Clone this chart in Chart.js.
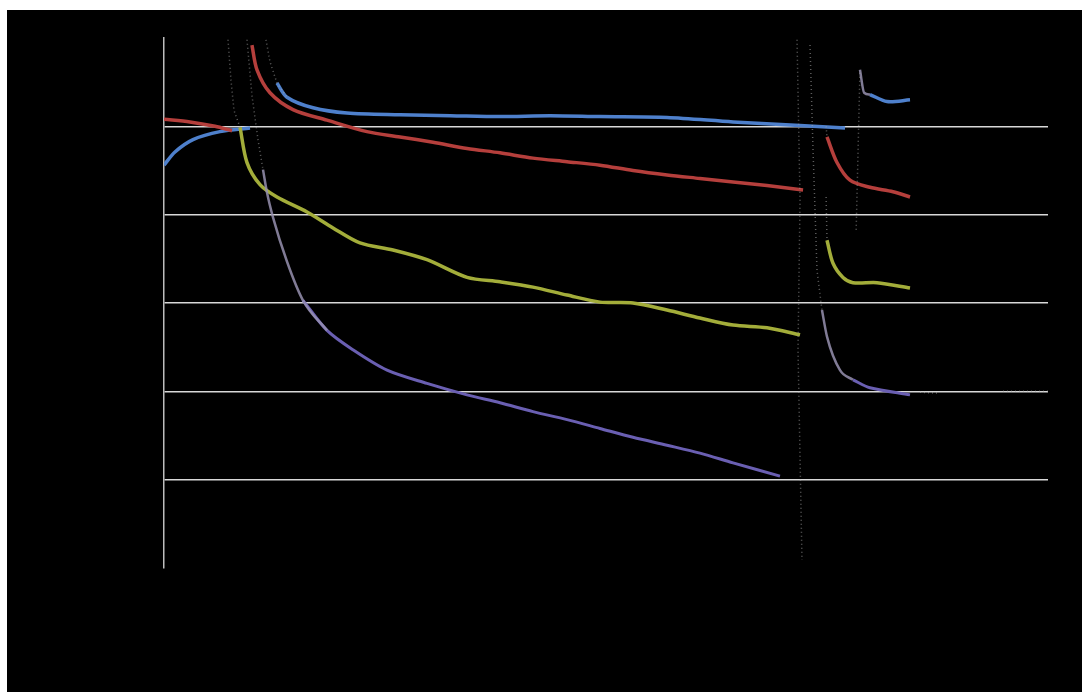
<!DOCTYPE html>
<html>
<head>
<meta charset="utf-8">
<script src="https://cdn.jsdelivr.net/npm/chart.js@4.4.1/dist/chart.umd.min.js"></script>
<style>
  body { margin: 0; background: #fff; }
  #wrap { position: absolute; left: 7px; top: 10px; width: 1075px; height: 682px; background: #000; }
</style>
</head>
<body>
<div id="wrap"><canvas id="chart"></canvas></div>
<script>
// values (x: 0-100 time units, y: 0-6), null = break in the trace
const blueX = [0, 1.24, 3.28, 6.33, 9.73, null, 12.78, 13.91, 16.86, 20.70, 26.70, 32.4, 38.01, 43.7, 49.32, 56.90, 64.37, 71.95, 77.04, null, 79.86, 81.79, 84.39];
const blueY = [4.56, 4.71, 4.85, 4.94, 4.98, null, 5.49, 5.33, 5.21, 5.15, 5.13, 5.12, 5.11, 5.12, 5.11, 5.10, 5.05, 5.01, 4.98, null, 5.36, 5.28, 5.30];

const redX = [0, 2.94, 5.77, 7.69, null, 9.95, 10.52, 11.99, 14.59, 18.44, 22.96, 26.70, 30.43, 34.28, 38.01, 41.74, 45.59, 49.32, 53.05, 56.90, 60.63, 64.37, 68.21, 72.29, null, 75.00, 76.13, 77.60, 79.86, 82.47, 84.39];
const redY = [5.08, 5.05, 5.00, 4.95, null, 5.92, 5.64, 5.38, 5.19, 5.07, 4.94, 4.88, 4.82, 4.75, 4.70, 4.64, 4.60, 4.56, 4.50, 4.45, 4.41, 4.37, 4.33, 4.28, null, 4.88, 4.59, 4.39, 4.31, 4.26, 4.20];

const yellowX = [8.60, 9.39, 10.86, 12.78, 16.18, 19.12, 22.17, 25.90, 29.75, 34.28, 38.01, 41.74, 45.59, 49.32, 53.05, 56.90, 60.63, 64.37, 68.21, 71.95, null, 75.00, 75.68, 76.81, 77.94, 80.66, 84.39];
const yellowY = [4.99, 4.59, 4.34, 4.20, 4.03, 3.85, 3.68, 3.60, 3.49, 3.29, 3.24, 3.18, 3.09, 3.01, 3.00, 2.92, 2.83, 2.75, 2.72, 2.64, null, 3.71, 3.45, 3.29, 3.23, 3.23, 3.17];

const purpleX = [15.72, 18.44, 21.38, 25.23, 29.75, 34.28, 38.01, 41.74, 45.59, 49.32, 53.05, 56.90, 60.63, 64.37, 69.68, null, 77.94, 79.86, 84.39];
const purpleY = [3.03, 2.69, 2.47, 2.24, 2.09, 1.96, 1.87, 1.77, 1.68, 1.58, 1.48, 1.39, 1.30, 1.19, 1.04, null, 2.13, 2.04, 1.96];

// greyish steep parts where the curves jump
const steepX = [11.20, 11.65, 12.33, 13.91, 15.72, 18.44, null, 74.43, 75.00, 76.47, 77.94, null, 78.73, 79.2, 79.86];
const steepY = [4.51, 4.25, 3.97, 3.47, 3.03, 2.69, null, 2.92, 2.62, 2.24, 2.13, null, 5.64, 5.38, 5.36];

// faint dotted traces
const greyX = [7.24, 7.58, 7.92, 8.60, null, 9.39, 9.95, 10.63, 11.20, null, 11.54, 11.99, 12.78, 13.91, null,
  71.61, 71.95, 71.72, 72.17, null, 73.08, 73.42, 73.87, 74.43, null, 78.3, 78.5, 78.73, null,
  74.9, 75.0, null, 74.9, 75.0, null, 85.52, 87.44, null, 94.91, 100];
const greyY = [5.98, 5.52, 5.18, 4.99, null, 5.98, 5.35, 4.85, 4.51, null, 5.98, 5.73, 5.49, 5.33, null,
  5.98, 4.17, 2.47, 0.09, null, 5.92, 4.73, 3.37, 2.92, null, 3.83, 4.66, 5.64, null,
  5.0, 4.88, null, 4.2, 3.71, null, 1.99, 1.98, null, 2.00, 2.00];

const yTicks = [0, 1, 2, 3, 4, 5, 6];

function pts(xs, ys) {
  return xs.map((x, i) => ({ x: x, y: x === null ? null : ys[i] }));
}

function line(data, color, width, extra) {
  return Object.assign({
    data: data, borderColor: color, borderWidth: width, pointRadius: 0,
    tension: 0.3, spanGaps: false, fill: false
  }, extra || {});
}

new Chart(document.getElementById('chart'), {
  type: 'line',
  data: {
    datasets: [
      line(pts(greyX, greyY), 'rgba(170,170,170,0.55)', 1.5, { borderDash: [1, 3], tension: 0 }),
      line(pts(steepX, steepY), 'rgba(150,145,175,0.85)', 2.5, { cubicInterpolationMode: 'monotone' }),
      line(pts(purpleX, purpleY), '#6a5fb2', 3),
      line(pts(yellowX, yellowY), '#a3ad3a', 3.5),
      line(pts(redX, redY), '#b53f3c', 3.5),
      line(pts(blueX, blueY), '#4e80cc', 3.5)
    ]
  },
  options: {
    responsive: true,
    maintainAspectRatio: false,
    animation: false,
    layout: { padding: { left: 157, top: 28, right: 34, bottom: 124 } },
    plugins: { legend: { display: false }, tooltip: { enabled: false } },
    scales: {
      x: { type: 'linear', min: 0, max: 100, display: false },
      y: {
        min: 0, max: 6,
        afterBuildTicks: s => { s.ticks = yTicks.map(v => ({ value: v })); },
        ticks: { display: false },
        border: { display: true, color: '#bdbdbd', width: 1.5 },
        grid: {
          drawTicks: false,
          lineWidth: 1.5,
          color: c => (c.tick.value === 0 || c.tick.value === 6) ? 'rgba(0,0,0,0)' : '#d8d8d8'
        }
      }
    }
  }
});
</script>
</body>
</html>
